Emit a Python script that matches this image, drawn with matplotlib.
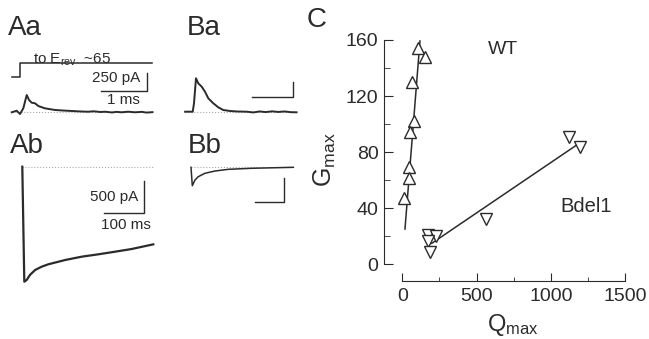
import matplotlib
matplotlib.use("Agg")
import matplotlib.pyplot as plt

plt.rcParams['font.family'] = ['Liberation Sans', 'DejaVu Sans']
plt.rcParams['mathtext.default'] = 'regular'

# Aa : tail current, step to E_rev (time in ms, current in pA)
aa_t = [-0.18, -0.072, 0.0, 0.072, 0.146, 0.196, 0.254, 0.326, 0.398, 0.543, 0.761,
        0.95, 1.124, 1.3, 1.485, 1.6, 1.75, 1.848, 2.0, 2.1, 2.21, 2.35, 2.5, 2.65, 2.75, 2.88]
aa_i = [-4, 18, -28, 51, 236, 167, 129, 121, 83, 51, 28,
        20, 14, 8, 4, 10, 0, 4, -6, 2, -4, 4, -4, 2, -8, -2]
# command voltage (mV)
aa_vt = [-0.18, 0.0, 0.0, 2.88]
aa_vm = [-80, -80, 65, 65]
aa_bar_t = [1.754, 2.754, 2.754]
aa_bar_i = [296, 296, 546]

# Ba
ba_t = [-0.19, -0.007, 0.024, 0.072, 0.127, 0.209, 0.288, 0.368, 0.488, 0.608, 0.728,
        0.889, 1.05, 1.291, 1.45, 1.6, 1.75, 1.9, 2.05, 2.2, 2.35, 2.49]
ba_i = [0, 0, 140, 557, 473, 417, 333, 223, 140, 73, 28,
        12, 4, 0, -12, 4, -6, 6, -4, 4, -8, -10]
ba_bar_t = [1.41, 2.41, 2.41]
ba_bar_i = [250, 250, 500]

# Ab : long pulse (time ms, current pA)
ab_t = [0, 5, 11, 19, 32, 48.5, 65, 107, 148.5, 190, 232, 273.5, 327.5]
ab_i = [0, -1797, -1770, -1692, -1614, -1562, -1525, -1458, -1406, -1369, -1328, -1286, -1213]
ab_bar_t = [204, 304, 304]
ab_bar_i = [-723, -723, -223]

# Bb
bb_t = [0, 4.5, 13.8, 25, 48, 83, 129, 209, 353]
bb_i = [0, -393, -271, -201, -128, -79, -43, -21, 0]
bb_bar_t = [221, 321, 321]
bb_bar_i = [-735, -735, -235]

# C : Gmax vs Qmax
wt_q = [104, 155, 65, 77, 52, 43, 43, 13.5]
wt_g = [154, 148, 130, 102, 94.6, 69.7, 61.8, 47]
wt_fit_q = [18, 119]
wt_fit_g = [25.2, 159.3]
bd_q = [1120, 1197, 564, 175, 225, 173, 184]
bd_g = [90.6, 83.5, 32.6, 21.2, 20.2, 16.9, 8.6]
bd_fit_q = [198, 1174]
bd_fit_g = [15, 85.1]

W, H = 649, 339
fig = plt.figure(figsize=(W / 100, H / 100), dpi=100)
ink = '#2b2b2b'


def panel(x0, y0, x1, y1, ox, oy, sx, sy):
    # axes placed in pixel box, data origin at pixel (ox, oy), sx/sy px per unit
    ax = fig.add_axes([x0 / W, 1 - y1 / H, (x1 - x0) / W, (y1 - y0) / H])
    ax.set_xlim((x0 - ox) / sx, (x1 - ox) / sx)
    ax.set_ylim((oy - y1) / sy, (oy - y0) / sy)
    ax.axis('off')
    return ax


def ftext(x, y, s, **kw):
    fig.text(x / W, 1 - y / H, s, color=ink, **kw)


# Aa
ax = panel(0, 55, 165, 125, 20, 112, 46, 0.072)
ax.plot([aa_t[0], aa_t[-1]], [0, 0], ls=':', color='#aaaaaa', lw=0.8)
ax.plot(aa_t, aa_i, color=ink, lw=1.4)
ax.plot(aa_bar_t, aa_bar_i, color=ink, lw=1)
vax = panel(0, 55, 165, 85, 20, 69.24, 46, 0.1007)
vax.plot(aa_vt, aa_vm, color=ink, lw=1.1)

# Ba
ax = panel(175, 70, 305, 125, 193, 111.7, 41.6, 0.06)
ax.plot([ba_t[0], ba_t[-1]], [0, 0], ls=':', color='#aaaaaa', lw=0.8)
ax.plot(ba_t, ba_i, color=ink, lw=1.4)
ax.plot(ba_bar_t, ba_bar_i, color=ink, lw=1)

# Ab
ax = panel(0, 155, 165, 295, 22.3, 166.7, 0.4, 0.064)
ax.plot([ab_t[0], ab_t[-1]], [0, 0], ls=':', color='#aaaaaa', lw=0.8)
ax.plot(ab_t, ab_i, color=ink, lw=1.6)
ax.plot(ab_bar_t, ab_bar_i, color=ink, lw=1)

# Bb
ax = panel(175, 155, 305, 215, 191, 167.3, 0.29, 0.0468)
ax.plot([bb_t[0], bb_t[-1]], [0, 0], ls=':', color='#aaaaaa', lw=0.8)
ax.plot(bb_t, bb_i, color=ink, lw=1.1)
ax.plot(bb_bar_t, bb_bar_i, color=ink, lw=1)

# panel letters and scale labels
ftext(8, 35, 'Aa', fontsize=20, va='baseline')
ftext(187, 35, 'Ba', fontsize=20, va='baseline')
ftext(10, 153, 'Ab', fontsize=20, va='baseline')
ftext(188, 153, 'Bb', fontsize=20, va='baseline')
ftext(307, 27, 'C', fontsize=20, va='baseline')
ftext(33, 64, 'to E$_{rev}$  ~65', fontsize=11, va='baseline')
ftext(140, 78.3, '250 pA', fontsize=11, ha='right', va='center')
ftext(123, 100.5, '1 ms', fontsize=11, ha='center', va='center')
ftext(114, 196.7, '500 pA', fontsize=11, ha='center', va='center')
ftext(126, 225, '100 ms', fontsize=11, ha='center', va='center')

# C
axc = fig.add_axes([384 / W, 1 - 281 / H, (630 - 384) / W, (281 - 38) / H])
axc.set_xlim((384 - 402.3) / 0.1485, (630 - 402.3) / 0.1485)
axc.set_ylim((264.4 - 281) / 1.4025, (264.4 - 38) / 1.4025)
axc.plot(wt_fit_q, wt_fit_g, color=ink, lw=1.1)
axc.plot(bd_fit_q, bd_fit_g, color=ink, lw=1.1)
axc.plot(wt_q, wt_g, ls='none', marker='^', ms=9, mfc='white', mec=ink, mew=1)
axc.plot(bd_q, bd_g, ls='none', marker='v', ms=9, mfc='white', mec=ink, mew=1)
for s in ['top', 'right']:
    axc.spines[s].set_visible(False)
axc.spines['left'].set_bounds(0, 160)
axc.spines['bottom'].set_bounds(0, 1500)
for s in ['left', 'bottom']:
    axc.spines[s].set_color(ink)
axc.set_yticks([0, 40, 80, 120, 160])
axc.set_yticks([20, 60, 100, 140], minor=True)
axc.set_xticks([0, 500, 1000, 1500])
axc.set_xticks([250, 750, 1250], minor=True)
axc.tick_params(which='both', direction='in', labelsize=14, colors=ink)
axc.tick_params(axis='y', which='major', length=6.5, pad=4)
axc.tick_params(axis='y', which='minor', length=4)
axc.tick_params(axis='x', which='major', length=5.5, pad=5)
axc.tick_params(axis='x', which='minor', length=3)

ftext(503, 50, 'WT', fontsize=14, ha='center', va='center')
ftext(586, 206, 'Bdel1', fontsize=14.5, ha='center', va='center')
ftext(325, 160, 'G$_{max}$', fontsize=18, rotation=90, ha='center', va='center')
ftext(513, 331, 'Q$_{max}$', fontsize=17, ha='center', va='baseline')

fig.savefig('out.png', dpi=100)
